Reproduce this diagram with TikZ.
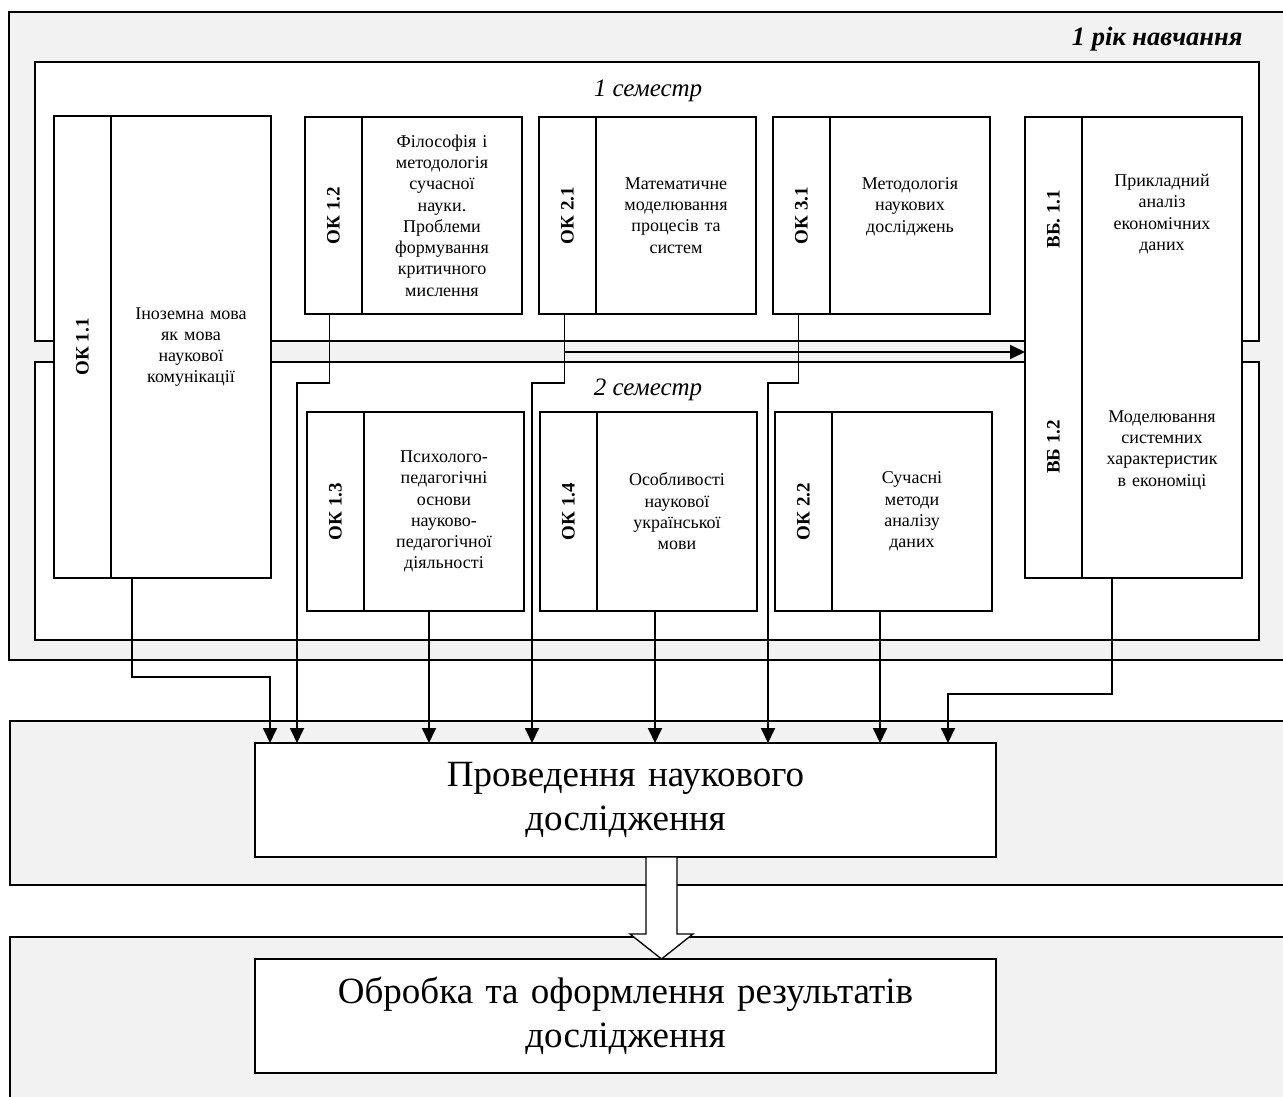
\documentclass[tikz,border=0pt]{standalone}
\usepackage{fontspec}
\setmainfont{Liberation Serif}
\usepackage{graphicx}
\usetikzlibrary{positioning,calc,arrows.meta}
\definecolor{panelgray}{HTML}{F2F2F2}
\newcommand{\codelabel}[1]{\rotatebox{90}{\fontsize{19}{21.3}\selectfont\bfseries #1}}
\tikzset{
  panel/.style={draw, line width=1.3pt, fill=panelgray, inner sep=0pt, outer sep=0pt, anchor=north west},
  semframe/.style={draw, line width=1.3pt, fill=white, inner sep=0pt, outer sep=0pt, anchor=north west},
  codebox/.style={draw, line width=1.7pt, fill=white, minimum width=57pt, inner sep=0pt, outer sep=0pt, font=\fontsize{18}{21.3}\selectfont},
  titlebox/.style={draw, line width=1.7pt, fill=white, minimum width=160pt, text width=152pt, align=center, inner sep=4pt, outer sep=0pt, font=\fontsize{18}{21.3}\selectfont},
  subjtext/.style={text width=152pt, align=center, inner sep=0pt, font=\fontsize{18}{21.3}\selectfont},
  codetext/.style={inner sep=0pt, font=\fontsize{18}{21.3}\selectfont},
  stagebox/.style={draw, line width=1.3pt, fill=white, minimum width=741pt, minimum height=114pt, text width=730pt, align=center, outer sep=0pt, font=\fontsize{37}{44}\selectfont},
  semlabel/.style={anchor=base, font=\fontsize{25}{28}\selectfont\itshape},
  flow/.style={line width=1.8pt, -{Triangle[length=15pt,width=14pt]}},
  hollow/.style={line width=1.3pt, fill=white, line join=miter}
}
\begin{document}
\begin{tikzpicture}[x=1pt, y=-1pt]
  \useasboundingbox (0,0) rectangle (1283,1097);
  \clip (0,0) rectangle (1283,1097);
  \node(YearPanel) [panel, minimum width=1290pt, minimum height=648pt] at (9,12) {};
  \node(YearLabel) [anchor=base east, font=\fontsize{26.5}{30}\selectfont\bfseries\itshape] at (1246,46) {1 рік навчання};
  \node(Sem1) [semframe, minimum width=1224pt, minimum height=279pt] at (35,62) {};
  \node(Sem2) [semframe, minimum width=1224pt, minimum height=278pt] at (35,362) {};
  \node(Sem1Label) [semlabel] at (648,97) {1 семестр};
  \node(Sem2Label) [semlabel] at (648,395) {2 семестр};

  \node(OK11Code) [codebox, minimum height=462pt, anchor=north west] at (54,116) {\codelabel{ОК 1.1}};
  \node(OK11) [titlebox, minimum height=462pt, right=0pt of OK11Code] {Іноземна мова\\як мова\\наукової\\комунікації};
  \node(OK12Code) [codebox, minimum height=197pt, anchor=north west] at (305,117) {\codelabel{ОК 1.2}};
  \node(OK12) [titlebox, minimum height=197pt, right=0pt of OK12Code] {Філософія і\\методологія\\сучасної\\науки.\\Проблеми\\формування\\критичного\\мислення};
  \node(OK21Code) [codebox, minimum height=197pt, anchor=north west] at (539,117) {\codelabel{ОК 2.1}};
  \node(OK21) [titlebox, minimum height=197pt, right=0pt of OK21Code] {Математичне\\моделювання\\процесів та\\систем};
  \node(OK31Code) [codebox, minimum height=197pt, anchor=north west] at (773,117) {\codelabel{ОК 3.1}};
  \node(OK31) [titlebox, minimum height=197pt, right=0pt of OK31Code] {Методологія\\наукових\\досліджень\\\mbox{}};
  \node(VBCode) [codebox, minimum height=461pt, anchor=north west] at (1025,117) {};
  \node(VB) [titlebox, minimum width=157pt, minimum height=461pt, right=0pt of VBCode] {};
  \node(VB11Code) [codetext] at ($(VBCode.north)+(0,102)$) {\codelabel{ВБ. 1.1}};
  \node(VB12Code) [codetext] at ($(VBCode.north)+(0,330)$) {\codelabel{ВБ 1.2}};
  \node(VB11) [subjtext] at ($(VB.north)+(0,97)$) {Прикладний\\аналіз\\економічних\\даних};
  \node(VB12) [subjtext] at ($(VB.north)+(0,333)$) {Моделювання\\системних\\характеристик\\в економіці};

  \node(OK13Code) [codebox, minimum height=199pt, anchor=north west] at (307,412) {\codelabel{ОК 1.3}};
  \node(OK13) [titlebox, minimum height=199pt, right=0pt of OK13Code] {Психолого-\\педагогічні\\основи\\науково-\\педагогічної\\діяльності};
  \node(OK14Code) [codebox, minimum height=199pt, anchor=north west] at (540,412) {\codelabel{ОК 1.4}};
  \node(OK14) [titlebox, minimum height=199pt, right=0pt of OK14Code] {Особливості\\наукової\\української\\мови};
  \node(OK22Code) [codebox, minimum height=199pt, anchor=north west] at (775,412) {\codelabel{ОК 2.2}};
  \node(OK22) [titlebox, minimum height=199pt, right=0pt of OK22Code] {Сучасні\\методи\\аналізу\\даних};

  \node(StagePanel) [panel, minimum width=1290pt, minimum height=164pt] at (10,721) {};
  \node(ResultPanel) [panel, minimum width=1290pt, minimum height=200pt] at (10,937) {};
  \node(Research) [stagebox] at (625.5,800) {Проведення наукового\\дослідження};
  \node(Results) [stagebox] at (625.5,1016) {Обробка та оформлення результатів\\дослідження};

  \coordinate (In1) at ($(Research.north west)+(15,0)$);
  \coordinate (In2) at ($(Research.north west)+(42,0)$);
  \coordinate (In3) at ($(Research.north west)+(174,0)$);
  \coordinate (In4) at ($(Research.north west)+(277,0)$);
  \coordinate (In5) at ($(Research.north west)+(400,0)$);
  \coordinate (In6) at ($(Research.north west)+(513,0)$);
  \coordinate (In7) at ($(Research.north west)+(625,0)$);
  \coordinate (In8) at ($(Research.north west)+(693,0)$);
  \coordinate (Split) at ($(OK21Code.south)+(-3,38)$);

  \draw[flow] ($(OK11.south west)+(21,0)$) -- ++(0,99) -| (In1);
  \draw[flow] ($(OK12Code.south)+(-4,0)$) -- ++(0,69) -| (In2);
  \draw[flow] (In3 |- OK13.south) -- (In3);
  \draw[flow] ($(OK21Code.south)+(-3,0)$) -- ++(0,69) -| (In4);
  \draw[flow] (In5 |- OK14.south) -- (In5);
  \draw[flow] ($(OK31Code.south)+(-3,0)$) -- ++(0,69) -| (In6);
  \draw[flow] (In7 |- OK22.south) -- (In7);
  \draw[flow] ($(VB.south west)+(30,0)$) -- ++(0,116) -| (In8);
  \draw[flow] (Split) -- (Split -| VBCode.west);

  \coordinate (DropTop) at ($(Research.south)+(36,0)$);
  \draw[hollow] ($(DropTop)+(-15.5,0)$) -- ++(0,77) -- ++(-16,0) -- (DropTop |- Results.north)
    -- ($(DropTop)+(31.5,77)$) -- ++(-16,0) -- ++(0,-77) -- cycle;
\end{tikzpicture}
\end{document}
